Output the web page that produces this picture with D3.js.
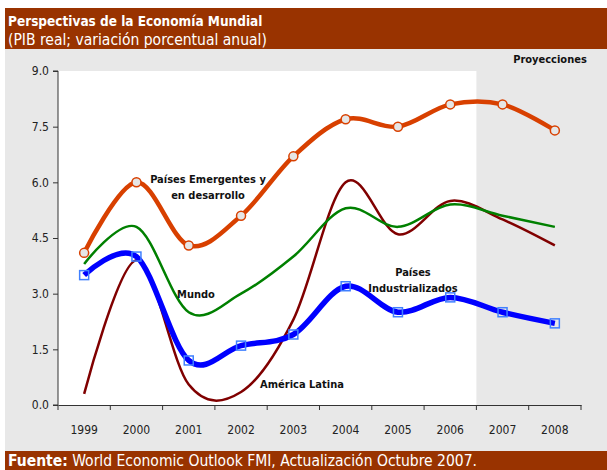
<!DOCTYPE html>
<html>
<head>
<meta charset="utf-8">
<script src="https://cdn.jsdelivr.net/npm/d3@7"></script>
<style>
  body { margin: 0; background: #fff; }
  svg { display: block; font-family: "DejaVu Sans Condensed", "Liberation Sans Narrow", "Liberation Sans", sans-serif; }
</style>
</head>
<body>
<svg id="chart" width="607" height="470"></svg>
<script>
const years = ["1999", "2000", "2001", "2002", "2003", "2004", "2005", "2006", "2007", "2008"];
const yTicks = [0, 1.5, 3, 4.5, 6, 7.5, 9];
const emergentes = [4.1, 6.0, 4.3, 5.1, 6.7, 7.7, 7.5, 8.1, 8.1, 7.4];
const mundo = [3.8, 4.8, 2.5, 3.0, 4.0, 5.3, 4.8, 5.4, 5.1, 4.8];
const latina = [0.3, 3.9, 0.55, 0.35, 2.3, 6.0, 4.6, 5.5, 5.0, 4.3];
const industrial = [3.5, 4.0, 1.2, 1.6, 1.9, 3.2, 2.5, 2.9, 2.5, 2.2];
const firstProjection = "2007";

const svg = d3.select("#chart");
const W = 607, H = 470;
const plot = { left: 58, right: 581, top: 71, bottom: 405 };

const x = d3.scaleBand().domain(years).range([plot.left, plot.right]);
const y = d3.scaleLinear().domain([0, 9]).range([plot.bottom, plot.top]);
const cx = d => x(d) + x.bandwidth() / 2;

// backgrounds
svg.append("rect").attr("x", 5).attr("y", 49).attr("width", W - 5).attr("height", 402).attr("fill", "#e8e8e8");
svg.append("rect")
  .attr("x", plot.left).attr("y", plot.top)
  .attr("width", x(firstProjection) - plot.left).attr("height", plot.bottom - plot.top)
  .attr("fill", "#ffffff");

// header bar
svg.append("rect").attr("x", 5).attr("y", 8).attr("width", W - 5).attr("height", 41).attr("fill", "#993300");
svg.append("text").attr("x", 8).attr("y", 26).attr("fill", "#fff")
  .attr("font-size", 13.5).attr("font-weight", "bold")
  .text("Perspectivas de la Economía Mundial");
svg.append("text").attr("x", 8).attr("y", 45).attr("fill", "#fff")
  .attr("font-size", 15.5)
  .text("(PIB real; variación porcentual anual)");

// footer bar
svg.append("rect").attr("x", 5).attr("y", 451).attr("width", W - 5).attr("height", 19).attr("fill", "#993300");
const foot = svg.append("text").attr("x", 8).attr("y", 466).attr("fill", "#fff").attr("font-size", 15.5);
foot.append("tspan").attr("font-weight", "bold").text("Fuente:");
foot.append("tspan").text(" World Economic Outlook FMI, Actualización Octubre 2007.");

// axes
const yAxis = svg.append("g")
  .attr("transform", `translate(${plot.left},0)`)
  .call(d3.axisLeft(y).tickValues(yTicks).tickFormat(d3.format(".1f")).tickSize(5).tickPadding(4));
const xAxis = svg.append("g")
  .attr("transform", `translate(0,${plot.bottom})`)
  .call(d3.axisBottom(x).tickSize(0).tickPadding(20));
xAxis.selectAll(".tick line").remove();
xAxis.selectAll(".tick")
  .append("line")
  .attr("x1", -x.bandwidth() / 2).attr("x2", -x.bandwidth() / 2)
  .attr("y1", 0).attr("y2", 5).attr("stroke", "#333");
xAxis.append("line")
  .attr("x1", plot.right).attr("x2", plot.right).attr("y1", 0).attr("y2", 5).attr("stroke", "#333");
[yAxis, xAxis].forEach(a => {
  a.select(".domain").attr("stroke", "#333");
  a.selectAll(".tick line").attr("stroke", "#333");
  a.selectAll("text").attr("font-size", 12).attr("fill", "#222")
    .attr("font-family", "\"DejaVu Sans Condensed\", \"Liberation Sans\", sans-serif");
});
yAxis.select(".domain").attr("d", `M-5,${plot.top}H0V${plot.bottom}H-5`);

// lines
const line = d3.line()
  .x((d, i) => cx(years[i]))
  .y(d => y(d))
  .curve(d3.curveCardinal.tension(0));

const series = [
  { values: latina, color: "#800000", width: 2.5 },
  { values: mundo, color: "#008000", width: 2.5 },
  { values: industrial, color: "#0000ff", width: 5.5, marker: "square" },
  { values: emergentes, color: "#d84000", width: 4.5, marker: "circle" }
];

series.forEach(s => {
  svg.append("path")
    .datum(s.values)
    .attr("d", line)
    .attr("fill", "none")
    .attr("stroke", s.color)
    .attr("stroke-width", s.width)
    .attr("stroke-linejoin", "round");
  if (s.marker === "circle") {
    svg.append("g").selectAll("circle")
      .data(s.values).enter().append("circle")
      .attr("cx", (d, i) => cx(years[i]))
      .attr("cy", d => y(d))
      .attr("r", 4.5)
      .attr("fill", "#e6e6e6")
      .attr("stroke", s.color)
      .attr("stroke-width", 1.5);
  } else if (s.marker === "square") {
    svg.append("g").selectAll("rect")
      .data(s.values).enter().append("rect")
      .attr("x", (d, i) => cx(years[i]) - 4.5)
      .attr("y", d => y(d) - 4.5)
      .attr("width", 9).attr("height", 9)
      .attr("fill", "none")
      .attr("stroke", "#4080ff")
      .attr("stroke-width", 1.5);
  }
});

// labels
const labels = [
  { lines: ["Países Emergentes y", "en desarrollo"], x: 208, y: 183 },
  { lines: ["Mundo"], x: 196, y: 298 },
  { lines: ["América Latina"], x: 302, y: 388 },
  { lines: ["Países", "Industrializados"], x: 413, y: 276 },
  { lines: ["Proyecciones"], x: 550, y: 63 }
];
labels.forEach(l => {
  const t = svg.append("text")
    .attr("text-anchor", "middle")
    .attr("font-size", 11)
    .attr("font-weight", "bold")
    .attr("fill", "#111");
  l.lines.forEach((s, i) => {
    t.append("tspan").attr("x", l.x).attr("y", l.y + i * 16).text(s);
  });
});
</script>
</body>
</html>
